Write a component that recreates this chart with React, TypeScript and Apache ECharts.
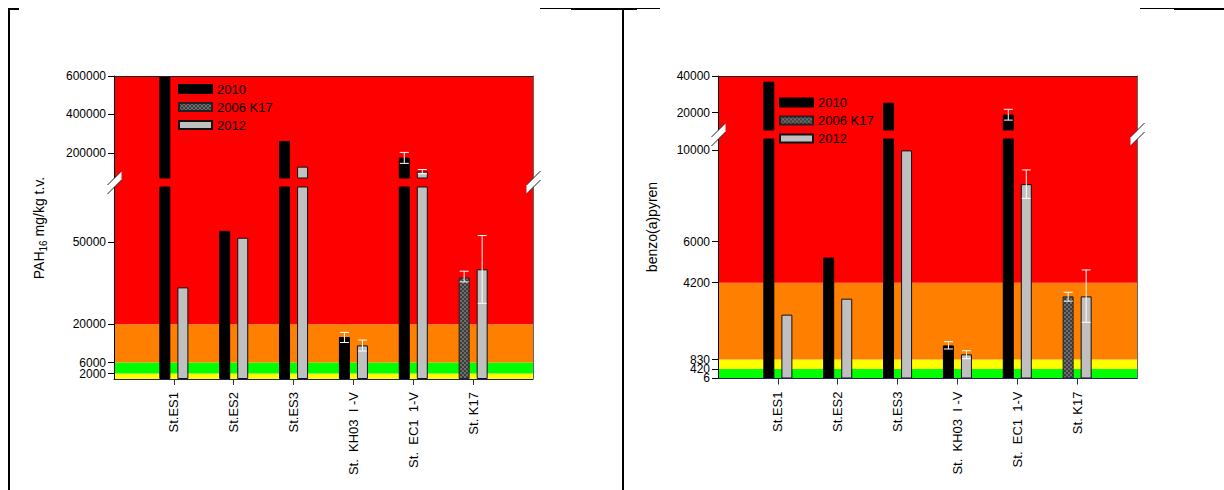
import React, { useEffect, useRef } from 'react';
import * as echarts from 'echarts';

// ---------- data ----------
const stations = ['St.ES1', 'St.ES2', 'St.ES3', 'St.  KH03  I -V', 'St.  EC1  1-V', 'St. K17'];
const axisSlots = ['', ...stations, ''];
const seriesNames = ['2010', '2006 K17', '2012'];

// PAH16 mg/kg t.v.
const pah2010 = [600000, 54000, 262000, 15300, 176000, null];
const pah2006 = [null, null, null, null, null, 37000];
const pah2012 = [33400, 51500, 129000, 12250, 103000, 40000];
const pah2010Err = [['St.  KH03  I -V', 13300, 17000], ['St.  EC1  1-V', 146000, 203000]];
const pah2006Err = [['St. K17', 35400, 39300]];
const pah2012Err = [['St.  KH03  I -V', 10200, 14200], ['St.  EC1  1-V', 92000, 114000], ['St. K17', 27600, 52300]];
const pahLowerRange = [0, 70000];
const pahUpperRange = [70000, 600000];
const pahLowerTicks = [2000, 6000, 20000, 50000];
const pahUpperTicks = [200000, 400000, 600000];
const pahThresholds = [0, 2000, 6000, 20000, 70000];

// benzo(a)pyren
const bap2010 = [36900, 5300, 25400, 1450, 18900, null];
const bap2006 = [null, null, null, null, null, 3600];
const bap2012 = [2800, 3500, 10000, 1060, 8520, 3600];
const bap2010Err = [['St.  KH03  I -V', 1294, 1614], ['St.  EC1  1-V', 15900, 21800]];
const bap2006Err = [['St. K17', 3390, 3780]];
const bap2012Err = [['St.  KH03  I -V', 870, 1220], ['St.  EC1  1-V', 7900, 9145], ['St. K17', 2465, 4760]];
const bapLowerRange = [0, 10500];
const bapUpperRange = [10500, 40000];
const bapLowerTicks = [6, 420, 830, 4200, 6000, 10000];
const bapUpperTicks = [20000, 40000];
const bapThresholds = [0, 6, 420, 830, 4200, 10500];

// ---------- styles ----------
const FONT = 'Liberation Sans, Arial, sans-serif';
const pahBandColors = ['#ffff00', '#00ff00', '#ff8000', '#ff0000'];
const bapBandColors = ['#1f3f8f', '#00ff00', '#ffff00', '#ff8000', '#ff0000'];
const RED = '#ff0000';

const gridBoxes = [
  { left: 114, width: 419, top: 76, height: 102 },
  { left: 114, width: 419, top: 187, height: 192 },
  { left: 718, width: 419, top: 76, height: 54 },
  { left: 718, width: 419, top: 139, height: 239.5 },
];

function makePattern() {
  const c = document.createElement('canvas');
  c.width = 4;
  c.height = 4;
  const ctx = c.getContext('2d')!;
  ctx.fillStyle = '#3c3c3c';
  ctx.fillRect(0, 0, 4, 4);
  ctx.fillStyle = '#6e6e6e';
  ctx.fillRect(0, 0, 2, 2);
  ctx.fillRect(2, 2, 2, 2);
  return { image: c, repeat: 'repeat' } as any;
}

function breakMark(x: number, yTop: number) {
  const w = 14;
  const d = 14;
  const gap = 9;
  return [
    {
      type: 'polygon', z: 100,
      shape: { points: [[x - w / 2, yTop + d], [x + w / 2, yTop], [x + w / 2, yTop + gap], [x - w / 2, yTop + d + gap]] },
      style: { fill: '#fff' },
    },
    { type: 'line', z: 101, shape: { x1: x - w / 2, y1: yTop + d, x2: x + w / 2, y2: yTop }, style: { stroke: '#222', lineWidth: 1 } },
    { type: 'line', z: 101, shape: { x1: x - w / 2, y1: yTop + d + gap, x2: x + w / 2, y2: yTop + gap }, style: { stroke: '#222', lineWidth: 1 } },
  ];
}

export default function App() {
  const ref = useRef<HTMLDivElement>(null);

  useEffect(() => {
    if (!ref.current) return;
    const chart = echarts.init(ref.current, undefined, { renderer: 'svg' });
    const pattern = makePattern();

    const panels = [
      {
        ranges: [pahUpperRange, pahLowerRange], ticks: [pahUpperTicks, pahLowerTicks],
        values: [pah2010, pah2006, pah2012], errors: [pah2010Err, pah2006Err, pah2012Err],
        thresholds: pahThresholds, colors: pahBandColors,
      },
      {
        ranges: [bapUpperRange, bapLowerRange], ticks: [bapUpperTicks, bapLowerTicks],
        values: [bap2010, bap2006, bap2012], errors: [bap2010Err, bap2006Err, bap2012Err],
        thresholds: bapThresholds, colors: bapBandColors,
      },
    ];

    const grid: any[] = [];
    const xAxis: any[] = [];
    const yAxis: any[] = [];
    const extraY: any[] = [];
    const series: any[] = [];

    const barStyles = [
      { color: '#000', borderColor: '#000', borderWidth: 1 },
      { color: pattern, borderColor: '#222', borderWidth: 1 },
      { color: '#c0c0c0', borderColor: '#111', borderWidth: 1 },
    ];

    const labelStyle = {
      margin: 8, fontSize: 12, lineHeight: 9, color: '#000', fontFamily: FONT, hideOverlap: false,
      showMinLabel: true, showMaxLabel: true, formatter: (v: number) => String(v),
    };

    for (let g = 0; g < 4; g++) {
      const p = panels[Math.floor(g / 2)];
      const part = g % 2; // 0 upper, 1 lower
      grid.push({ ...gridBoxes[g], containLabel: false });
      xAxis.push({
        type: 'category', gridIndex: g, data: axisSlots, boundaryGap: false, z: 10,
        show: part === 1,
        axisLine: { show: true, lineStyle: { color: '#1a2060', width: 1 } },
        axisTick: { show: true, length: 6, lineStyle: { color: '#333' }, interval: (i: number) => i > 0 && i < axisSlots.length - 1 },
        axisLabel: { interval: 0, rotate: 90, margin: 13, fontSize: 13, color: '#000', fontFamily: FONT, hideOverlap: false },
        splitLine: { show: false },
      });
      const [mn, mx] = p.ranges[part];
      const ticks = p.ticks[part];
      const evenTicks = ticks.filter((_, i) => i % 2 === 0);
      const oddTicks = ticks.filter((_, i) => i % 2 === 1);
      yAxis.push({
        type: 'value', gridIndex: g, min: mn, max: mx, z: 10,
        axisLine: { show: true, lineStyle: { color: '#000', width: 1 } },
        axisTick: { show: true, length: 6, customValues: ticks, lineStyle: { color: '#000' } },
        axisLabel: { show: true, customValues: evenTicks, ...labelStyle },
        splitLine: { show: false },
      });
      // second label axis (same scale) so that close tick labels are all kept
      extraY.push({
        type: 'value', gridIndex: g, min: mn, max: mx, z: 10, position: 'left', offset: 0,
        axisLine: { show: false }, axisTick: { show: false },
        axisLabel: { show: oddTicks.length > 0, customValues: oddTicks.length ? oddTicks : [mn], ...labelStyle },
        splitLine: { show: false },
      });

      const bands: any[] = [];
      if (part === 1) {
        for (let i = 0; i < p.thresholds.length - 1; i++) {
          bands.push([{ yAxis: p.thresholds[i], itemStyle: { color: p.colors[i] } }, { yAxis: p.thresholds[i + 1] }]);
        }
      } else {
        bands.push([{ yAxis: mn, itemStyle: { color: RED } }, { yAxis: mx }]);
      }
      series.push({
        type: 'line', xAxisIndex: g, yAxisIndex: g, data: [], z: 1, silent: true,
        markArea: { silent: true, data: bands, itemStyle: { opacity: 1 } },
      });

      for (let k = 0; k < 3; k++) {
        series.push({
          type: 'bar', name: seriesNames[k], xAxisIndex: g, yAxisIndex: g,
          data: [null, ...p.values[k], null],
          stack: k < 2 ? 'a' + g : 'b' + g,
          barWidth: 11, barGap: '64%', z: 2, clip: true,
          itemStyle: barStyles[k],
        });
      }
      for (let k = 0; k < 3; k++) {
        const off = k === 2 ? 9 : -9;
        series.push({
          type: 'custom', xAxisIndex: g, yAxisIndex: g, z: 4, clip: true, silent: true,
          data: p.errors[k],
          encode: { x: 0, y: [1, 2] },
          renderItem: (params: any, api: any) => {
            const c = api.value(0);
            const lo = api.coord([c, api.value(1)]);
            const hi = api.coord([c, api.value(2)]);
            const x = lo[0] + off;
            const st = { stroke: '#fff', lineWidth: 1 };
            return {
              type: 'group',
              children: [
                { type: 'line', shape: { x1: x, y1: lo[1], x2: x, y2: hi[1] }, style: st },
                { type: 'line', shape: { x1: x - 4.5, y1: lo[1], x2: x + 4.5, y2: lo[1] }, style: st },
                { type: 'line', shape: { x1: x - 4.5, y1: hi[1], x2: x + 4.5, y2: hi[1] }, style: st },
              ],
            };
          },
        });
      }
    }
    [0, 2].forEach((g) => {
      xAxis.push({
        type: 'category', gridIndex: g, data: axisSlots, boundaryGap: false, position: 'top', z: 10,
        axisLine: { show: true, lineStyle: { color: '#222', width: 1 } },
        axisTick: { show: false }, axisLabel: { show: false }, splitLine: { show: false },
      });
    });
    [0, 1, 2, 3].forEach((g) => {
      yAxis.push({
        type: 'value', gridIndex: g, position: 'right', z: 10,
        axisLine: { show: true, lineStyle: { color: '#666', width: 1 } },
        axisTick: { show: false }, axisLabel: { show: false }, splitLine: { show: false },
      });
    });
    yAxis.push(...extraY);

    const legendCommon = {
      orient: 'vertical', data: seriesNames, itemWidth: 33, itemHeight: 8, itemGap: 5, padding: 0,
      icon: 'rect', selectedMode: false,
      textStyle: { fontSize: 13, color: '#000', fontFamily: FONT },
    };

    const blk = { stroke: '#000', lineWidth: 2 };
    const thin = { stroke: '#000', lineWidth: 1 };
    const graphic = [
      { type: 'line', shape: { x1: 9, y1: 8, x2: 9, y2: 490 }, style: blk },
      { type: 'line', shape: { x1: 8, y1: 9, x2: 19, y2: 9 }, style: blk },
      { type: 'line', shape: { x1: 540, y1: 8.5, x2: 571, y2: 8.5 }, style: thin },
      { type: 'line', shape: { x1: 571, y1: 9, x2: 637, y2: 9 }, style: blk },
      { type: 'line', shape: { x1: 637, y1: 8.5, x2: 660, y2: 8.5 }, style: thin },
      { type: 'line', shape: { x1: 623, y1: 9, x2: 623, y2: 490 }, style: blk },
      { type: 'line', shape: { x1: 1140, y1: 8.5, x2: 1174, y2: 8.5 }, style: thin },
      { type: 'line', shape: { x1: 1174, y1: 9, x2: 1224, y2: 9 }, style: blk },
      { type: 'rect', z: 0, shape: { x: 114, y: 177.5, width: 419, height: 10 }, style: { fill: RED } },
      { type: 'rect', z: 0, shape: { x: 718, y: 129.5, width: 419, height: 10 }, style: { fill: RED } },
      ...breakMark(114.5, 171),
      ...breakMark(533.5, 171),
      ...breakMark(718.5, 123),
      ...breakMark(1137.5, 123),
      {
        type: 'text', z: 100, x: 39, y: 228, rotation: Math.PI / 2,
        style: {
          text: '{n|PAH}{s|16}{n| mg/kg t.v.}', align: 'center', verticalAlign: 'middle',
          rich: {
            n: { fontSize: 14, fontFamily: FONT, fill: '#000' },
            s: { fontSize: 10, fontFamily: FONT, fill: '#000', padding: [8, 0, 0, 0], verticalAlign: 'top' },
          },
        },
      },
      {
        type: 'text', z: 100, x: 652, y: 227, rotation: Math.PI / 2,
        style: { text: 'benzo(a)pyren', align: 'center', verticalAlign: 'middle', fontSize: 14, fontFamily: FONT, fill: '#000' },
      },
    ];

    chart.setOption({
      animation: false,
      backgroundColor: '#fff',
      textStyle: { fontFamily: FONT },
      grid, xAxis, yAxis, series,
      legend: [
        { ...legendCommon, left: 178, top: 82.5 },
        { ...legendCommon, left: 779, top: 96 },
      ],
      graphic: { elements: graphic },
    });

    return () => chart.dispose();
  }, []);

  return <div ref={ref} style={{ width: 1224, height: 490, position: 'absolute', left: 0, top: 0 }} />;
}
